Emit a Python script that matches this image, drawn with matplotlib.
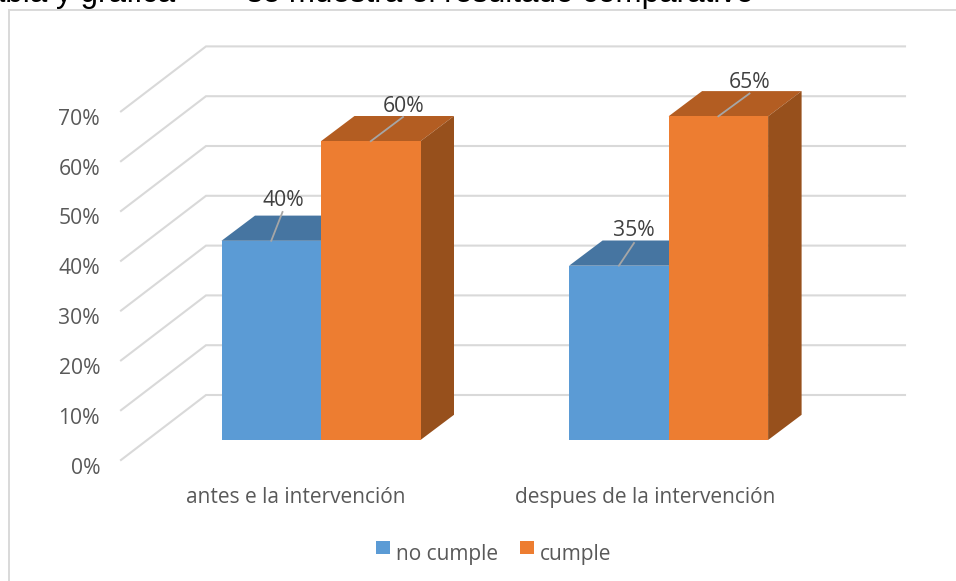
import matplotlib
matplotlib.use("Agg")
import matplotlib.pyplot as plt
from matplotlib.patches import Polygon, Rectangle

categories = ["antes e la intervención", "despues de la intervención"]
series_names = ["no cumple", "cumple"]
no_cumple = [40, 35]
cumple = [60, 65]
y_ticks = [0, 10, 20, 30, 40, 50, 60, 70]

W, H = 956, 581
BLUE = ["#5b9bd5", "#4675a1", "#3b6a96"]
ORANGE = ["#ed7d31", "#b35d22", "#97501c"]
GRID = "#d9d9d9"
TEXT = "#595959"

# one category = 347.6 px, one percent = 4.98 px, bars front plane at y=440 px
CAT_PX = 347.6
PCT_PX = 4.98
X0_PX, Y0_PX = 321.0, 440.0
BAR_W = 99.5 / CAT_PX
DX = 33.5 / CAT_PX   # bar depth
DY = 25.2 / PCT_PX


def px(x):
    return (x - X0_PX) / CAT_PX


def py(y):
    return (Y0_PX - y) / PCT_PX


plt.rcParams["font.family"] = ["Open Sans", "DejaVu Sans"]

fig = plt.figure(figsize=(W / 100, H / 100), dpi=100)
ax = fig.add_axes([0, 0, 1, 1])
ax.set_xlim(px(0), px(W))
ax.set_ylim(py(H), py(0))
ax.axis("off")

# chart frame, runs off the picture on the right and bottom
ax.plot([px(9), px(9), px(W)], [py(H), py(10), py(10)],
        color=GRID, lw=1.4, zorder=1, solid_joinstyle="miter")

# walls of the 3d box: front edge, back edge, right end
wall_front_off = py(460)
wall_back_off = py(395)
tick_base_off = py(473.5)

for t in y_ticks:
    ax.plot([px(121), px(206), px(905)],
            [t + wall_front_off, t + wall_back_off, t + wall_back_off],
            color=GRID, lw=1.5, zorder=1, solid_joinstyle="miter")
    ax.text(px(100), t + tick_base_off, f"{t}%",
            ha="right", va="baseline", fontsize=15.2, color=TEXT)


def draw_bar(x_left, value, colors):
    x_right = x_left + BAR_W
    top = [(x_left, value), (x_left + DX, value + DY), (x_right + DX, value + DY), (x_right, value)]
    side = [(x_right, 0), (x_right + DX, DY), (x_right + DX, value + DY), (x_right, value)]
    front = [(x_left, 0), (x_right, 0), (x_right, value), (x_left, value)]
    ax.add_patch(Polygon(top, closed=True, fc=colors[1], ec="none", zorder=3))
    ax.add_patch(Polygon(side, closed=True, fc=colors[2], ec="none", zorder=3))
    ax.add_patch(Polygon(front, closed=True, fc=colors[0], ec="none", zorder=3))


def draw_label(x_left, value, end_x, end_y, text_x, text_y):
    # leader line from the middle of the front edge up to the label
    ax.plot([x_left + BAR_W / 2, px(end_x)], [value, py(end_y)], color="#a6a6a6", lw=1.3, zorder=5)
    ax.text(px(text_x), py(text_y), f"{value}%", ha="center", va="baseline",
            fontsize=15.2, color="#404040", zorder=6)


for i, cat in enumerate(categories):
    draw_bar(i - BAR_W, no_cumple[i], BLUE)
    draw_bar(i, cumple[i], ORANGE)

ax.text(px(296), py(503), categories[0], ha="center", va="baseline", fontsize=15, color=TEXT)
ax.text(px(645), py(503), categories[1], ha="center", va="baseline", fontsize=15, color=TEXT)

draw_label(-BAR_W, no_cumple[0], 282.5, 212, 283, 206.5)
draw_label(0, cumple[0], 403, 117, 404, 112.5)
draw_label(1 - BAR_W, no_cumple[1], 634, 243, 634, 236.5)
draw_label(1, cumple[1], 749.5, 93.5, 750, 88.5)

# legend
ax.add_patch(Rectangle((px(376), py(554)), 14 / CAT_PX, 13 / PCT_PX, fc=BLUE[0], ec="none"))
ax.add_patch(Rectangle((px(520), py(554)), 14 / CAT_PX, 13 / PCT_PX, fc=ORANGE[0], ec="none"))
ax.text(px(396), py(560), series_names[0], ha="left", va="baseline", fontsize=15, color=TEXT)
ax.text(px(540), py(560), series_names[1], ha="left", va="baseline", fontsize=15, color=TEXT)

# caption of the page, cut by the top of the picture
fig.text(-28 / W, 1 - 2 / H, "Tabla y gráfica", family="Liberation Sans", fontsize=22.6, color="black", va="baseline")
fig.text(247 / W, 1 - 2 / H, "se muestra el resultado comparativo", family="Liberation Sans", fontsize=22.6,
         color="black", va="baseline")

fig.savefig("out.png", dpi=100)
